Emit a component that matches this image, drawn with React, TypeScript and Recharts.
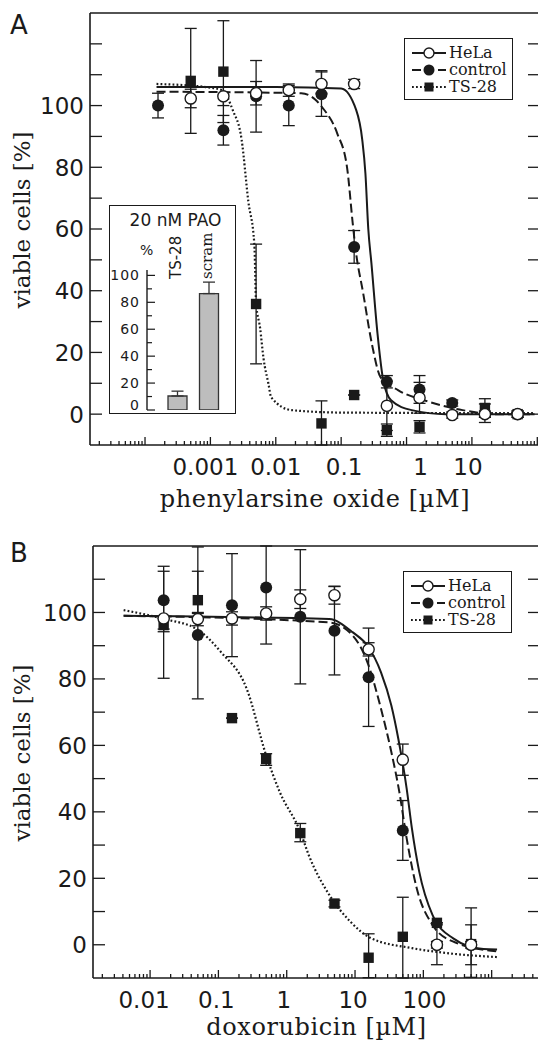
import React from 'react';
import {
  ComposedChart,
  BarChart,
  Bar,
  Line,
  Scatter,
  XAxis,
  YAxis,
  ErrorBar,
  Label,
  LabelList,
} from 'recharts';

const INK = '#1a1a1a';
const SANS = 'DejaVu Sans, sans-serif';
const SERIF = 'DejaVu Serif, serif';

const seriesNames = ['HeLa', 'control', 'TS-28'];

// ---- panel A: phenylarsine oxide [µM] ----
const paoHelaX = [0.0005, 0.00158, 0.005, 0.0158, 0.05, 0.158, 0.5, 1.58, 5, 15.8, 50];
const paoHelaY = [102.3, 103, 104, 105, 107, 107, 2.7, 5.3, -0.3, 0, 0];
const paoHelaErr = [[3, 3], [3, 3], [3.8, 3.8], [2, 2], [3, 4.3], [1.5, 1.5], [8, 8], [5, 5], [1, 1], [1, 1], [1, 1]];

const paoCtrlX = [0.000158, 0.00158, 0.005, 0.0158, 0.05, 0.158, 0.5, 1.58, 5, 15.8, 50];
const paoCtrlY = [100, 92, 103, 100, 103.7, 54.2, 10.5, 8, 3.6, 0.3, 0];
const paoCtrlErr = [[4, 4], [4.8, 4.8], [11.6, 11.6], [6.5, 6.5], [7.2, 7.2], [5.3, 5.3], [2, 2], [4.5, 4.5], [1, 1], [3, 3], [1, 1]];

const paoTsX = [0.0005, 0.00158, 0.005, 0.05, 0.158, 0.5, 1.58, 15.8, 50];
const paoTsY = [108, 111, 35.7, -3, 6.2, -5.2, -4.1, 2, 0];
const paoTsErr = [[17, 17], [16.5, 16.5], [19.4, 19.4], [7, 7.3], [0, 0], [2, 2], [2, 2], [3, 3], [1, 1]];

// fitted curves
const paoHelaFitX = [0.00015, 0.01, 0.1, 0.17, 0.21, 0.235, 0.26, 0.29, 0.36, 0.44, 0.58, 1.2, 4, 90];
const paoHelaFitY = [106, 106, 105.5, 98.5, 89, 78, 60, 49, 26, 11, 4.5, 1.3, 0, 0];
const paoCtrlFitX = [0.00015, 0.0245, 0.04, 0.051, 0.087, 0.123, 0.15, 0.165, 0.218, 0.3, 0.4, 0.74, 2.2, 7.2, 24, 90];
const paoCtrlFitY = [104.5, 104, 102, 99.5, 91, 80, 62, 54, 39, 22, 12, 7.8, 4, 1.3, 0, 0];
const paoTsFitX = [0.00015, 0.00085, 0.0015, 0.0022, 0.003, 0.0038, 0.0047, 0.005, 0.00575, 0.0065, 0.0077, 0.0085, 0.0174, 0.105, 90];
const paoTsFitY = [107, 106, 105, 98.5, 89, 69, 55, 36, 28, 18, 10, 5.5, 1.3, 0.5, 0.3];

const paoTickValues = [0.001, 0.01, 0.1, 1, 10];
const paoTickLabels = ['0.001', '0.01', '0.1', '1', '10'];
const paoTickShift = [-5, 0, 3, 14, -4];

// ---- panel B: doxorubicin [µM] ----
const doxDoses = [0.0158, 0.05, 0.158, 0.5, 1.58, 5, 15.8, 50, 158, 500];
const doxHelaY = [98.2, 98, 98.2, 99.7, 104, 105.2, 88.9, 55.7, 0, 0];
const doxHelaErr = [[18, 15.7], [2, 2], [2, 2], [2, 2], [2.8, 2.8], [2.7, 2.7], [2, 2], [4.7, 4.7], [1, 1], [1, 1]];
const doxCtrlY = [103.7, 93.2, 102.2, 107.5, 98.7, 94.5, 80.5, 34.4, 0, 0];
const doxCtrlErr = [[8.7, 8.7], [19.2, 19.2], [15.5, 15.5], [17, 12.5], [20.2, 20.2], [13.3, 13.3], [14.8, 14.8], [9, 9], [6, 6], [6, 6]];
const doxTsY = [96.2, 103.7, 68.2, 55.9, 33.6, 12.4, -3.9, 2.4, 6.6, 0.2];
const doxTsErr = [[2, 2], [4, 16], [0, 0], [1.9, 1.6], [2.6, 2.9], [1, 1], [6, 7.2], [12.4, 11.9], [0, 0], [10, 10.9]];

const doxHelaFitX = [0.0041, 4.2, 9.3, 15.2, 24, 34, 43, 57, 68, 87, 136, 270, 760, 1200];
const doxHelaFitY = [99, 98, 94, 90, 82, 72, 62, 47, 35, 22, 9, 2, -1.3, -1.4];
const doxCtrlFitX = [0.0041, 4.2, 9.3, 15.2, 24, 34, 44.5, 57, 80, 136, 270, 1200];
const doxCtrlFitY = [99, 97, 93, 85, 71, 58, 46, 32, 17, 6, 1, -2];
const doxTsFitX = [0.0041, 0.0163, 0.048, 0.11, 0.26, 0.5, 0.79, 1.58, 2.1, 4.2, 8.5, 17, 68, 270, 1200];
const doxTsFitY = [100.7, 98, 95, 88, 77, 57, 46, 34, 27, 15, 7, 2, -1, -2.7, -3.7];

const doxTickValues = [0.01, 0.1, 1, 10, 100];
const doxTickLabels = ['0.01', '0.1', '1', '10', '100'];
const doxTickShift = [-6, -2, -3, -2, 1];

// ---- inset: 20 nM PAO ----
const insetGroups = ['TS-28', 'scram'];
const insetValues = [10.4, 86.5];
const insetErrUp = [3.6, 8.5];
const insetTicks = [0, 10, 20, 30, 40, 50, 60, 70, 80, 90, 100];

const yLabelValues = [0, 20, 40, 60, 80, 100];

const pts = (xs: number[], ys: number[], errs?: number[][]) =>
  xs.map((x, i) => ({ x, y: ys[i], err: errs ? errs[i] : undefined }));

function logTicks(lo: number, hi: number) {
  const out: number[] = [];
  for (let e = Math.floor(Math.log10(lo)); e <= Math.ceil(Math.log10(hi)); e++) {
    for (let k = 1; k <= 9; k++) {
      const v = Number((k * Math.pow(10, e)).toPrecision(6));
      if (v >= lo && v <= hi) out.push(v);
    }
  }
  return out;
}

function LogTick(props: any) {
  const { x, y, payload, side, labelValues, labelTexts, labelShift } = props;
  const lg = Math.log10(payload.value);
  const major = Math.abs(lg - Math.round(lg)) < 1e-6;
  const d = side === 'top' ? 1 : -1;
  let idx = -1;
  if (side === 'bottom') {
    idx = labelValues.findIndex((lv: number) => Math.abs(Math.log10(lv) - lg) < 1e-6);
  }
  return (
    <g>
      <line x1={x} x2={x} y1={y} y2={y + d * (major ? 8 : 4)} stroke={INK} strokeWidth={1.3} />
      {idx >= 0 && (
        <text x={x + labelShift[idx]} y={y + 30} textAnchor="middle" fontFamily={SANS} fontSize={23} fill={INK}>
          {labelTexts[idx]}
        </text>
      )}
    </g>
  );
}

function LinTick(props: any) {
  const { x, y, payload, side } = props;
  const v = payload.value;
  const d = side === 'left' ? 1 : -1;
  return (
    <g>
      <line x1={x} x2={x + d * 12} y1={y} y2={y} stroke={INK} strokeWidth={1.3} />
      {side === 'left' && yLabelValues.includes(v) && (
        <text x={x - 6} y={y + 8.4} textAnchor="end" fontFamily={SANS} fontSize={23} fill={INK}>
          {v}
        </text>
      )}
    </g>
  );
}

const OpenCircle = (p: any) => (
  <circle cx={p.cx} cy={p.cy} r={5.6} fill="#fff" stroke={INK} strokeWidth={1.4} />
);
const FilledCircle = (p: any) => <circle cx={p.cx} cy={p.cy} r={6} fill={INK} />;
const FilledSquare = (p: any) => <rect x={p.cx - 5.2} y={p.cy - 5.2} width={10.4} height={10.4} fill={INK} />;

const lineStyles = [
  { dash: undefined, width: 2 },
  { dash: '9 4', width: 2 },
  { dash: '1.8 2.2', width: 2.2 },
];

function LegendBox({ left, top }: { left: number; top: number }) {
  const markers = [
    <circle cx={17} cy={7} r={5} fill="#fff" stroke={INK} strokeWidth={1.4} />,
    <circle cx={17} cy={7} r={5.5} fill={INK} />,
    <rect x={12.5} y={2.5} width={9} height={9} fill={INK} />,
  ];
  return (
    <div
      style={{
        position: 'absolute', left, top, width: 109, height: 62,
        border: `1.5px solid ${INK}`, boxSizing: 'border-box', background: '#fff',
      }}
    >
      {seriesNames.map((name, i) => (
        <div
          key={name}
          style={{ position: 'absolute', left: 7, top: 5 + i * 17, height: 17, display: 'flex', alignItems: 'center' }}
        >
          <svg width={34} height={14}>
            <line x1={0} x2={34} y1={7} y2={7} stroke={INK} strokeWidth={lineStyles[i].width} strokeDasharray={lineStyles[i].dash} />
            {markers[i]}
          </svg>
          <span style={{ fontFamily: SERIF, fontSize: 16, color: INK, marginLeft: 3, lineHeight: '17px' }}>{name}</span>
        </div>
      ))}
    </div>
  );
}

interface PanelCfg {
  top: number;
  height: number;
  plotTop: number;
  plotBottom: number;
  plotLeft: number;
  xDomain: [number, number];
  yDomain: [number, number];
  yTicks: number[];
  tickValues: number[];
  tickLabels: string[];
  tickShift: number[];
  xTitle: string;
  titleDy: number;
  fits: { x: number; y: number }[][];
  points: { x: number; y: number; err?: number[] }[][];
  legendLeft: number;
  legendTop: number;
  letter: string;
}

function DosePanel({ cfg }: { cfg: PanelCfg }) {
  const W = 560;
  const xTicks = logTicks(cfg.xDomain[0], cfg.xDomain[1]);
  const shapes = [OpenCircle, FilledCircle, FilledSquare];
  const order = [2, 1, 0];
  return (
    <>
      <div style={{ position: 'absolute', left: 0, top: cfg.top }}>
        <ComposedChart
          width={W}
          height={cfg.height}
          margin={{ top: cfg.plotTop - 4, right: W - 540 - 4, bottom: 0, left: cfg.plotLeft - 60 }}
        >
          <XAxis
            dataKey="x"
            type="number"
            scale="log"
            domain={cfg.xDomain}
            allowDataOverflow
            ticks={xTicks}
            interval={0}
            tickSize={0}
            tickMargin={0}
            tickLine={false}
            axisLine={{ stroke: INK, strokeWidth: 1.6 }}
            height={cfg.height - cfg.plotBottom}
            tick={(t: any) => (
              <LogTick
                {...t}
                side="bottom"
                labelValues={cfg.tickValues}
                labelTexts={cfg.tickLabels}
                labelShift={cfg.tickShift}
              />
            )}
          >
            <Label
              content={(lp: any) => {
                const vb = lp.viewBox;
                return (
                  <text
                    x={vb.x + vb.width / 2}
                    y={vb.y + cfg.titleDy}
                    textAnchor="middle"
                    fontFamily={SERIF}
                    fontSize={24}
                    letterSpacing={0.6}
                    fill={INK}
                  >
                    {cfg.xTitle}
                  </text>
                );
              }}
            />
          </XAxis>
          <XAxis
            xAxisId="top"
            orientation="top"
            type="number"
            scale="log"
            domain={cfg.xDomain}
            allowDataOverflow
            ticks={xTicks}
            interval={0}
            tickSize={0}
            tickMargin={0}
            tickLine={false}
            axisLine={{ stroke: INK, strokeWidth: 1.6 }}
            height={4}
            tick={(t: any) => <LogTick {...t} side="top" />}
          />
          <YAxis
            dataKey="y"
            type="number"
            domain={cfg.yDomain}
            allowDataOverflow
            ticks={cfg.yTicks}
            interval={0}
            tickSize={0}
            tickMargin={0}
            tickLine={false}
            axisLine={{ stroke: INK, strokeWidth: 1.6 }}
            width={60}
            tick={(t: any) => <LinTick {...t} side="left" />}
          >
            <Label
              content={(lp: any) => {
                const vb = lp.viewBox;
                const cy = vb.y + vb.height / 2 - 9;
                return (
                  <text
                    x={30}
                    y={cy}
                    transform={`rotate(-90, 30, ${cy})`}
                    textAnchor="middle"
                    fontFamily={SERIF}
                    fontSize={23}
                    fill={INK}
                  >
                    viable cells  [%]
                  </text>
                );
              }}
            />
          </YAxis>
          <YAxis
            yAxisId="right"
            orientation="right"
            type="number"
            domain={cfg.yDomain}
            allowDataOverflow
            ticks={cfg.yTicks}
            interval={0}
            tickSize={0}
            tickMargin={0}
            tickLine={false}
            axisLine={{ stroke: INK, strokeWidth: 1.6 }}
            width={4}
            tick={(t: any) => <LinTick {...t} side="right" />}
          />

          {cfg.fits.map((fit, i) => (
            <Line
              key={`fit-${i}`}
              data={fit}
              dataKey="y"
              type="monotone"
              stroke={INK}
              strokeWidth={lineStyles[i].width}
              strokeDasharray={lineStyles[i].dash}
              dot={false}
              activeDot={false}
              isAnimationActive={false}
              name={seriesNames[i]}
            />
          ))}

          {order.map((i) => (
            <Scatter
              key={`pts-${i}`}
              data={cfg.points[i]}
              dataKey="y"
              shape={shapes[i]}
              isAnimationActive={false}
              name={seriesNames[i]}
            >
              <ErrorBar dataKey="err" direction="y" width={6} stroke={INK} strokeWidth={1.3} />
            </Scatter>
          ))}
        </ComposedChart>
      </div>
      <LegendBox left={cfg.legendLeft} top={cfg.legendTop} />
      <div
        style={{
          position: 'absolute', left: 10, top: cfg.top + (cfg.letter === 'A' ? 12 : 20),
          fontFamily: SANS, fontSize: 26, lineHeight: '26px', color: INK,
        }}
      >
        {cfg.letter}
      </div>
    </>
  );
}

function InsetBars() {
  const data = insetGroups.map((name, i) => ({ name, v: insetValues[i], err: [0, insetErrUp[i]] }));
  return (
    <>
      <div
        style={{
          position: 'absolute', left: 109, top: 205, width: 127, height: 209,
          border: `1.5px solid ${INK}`, boxSizing: 'border-box', background: '#fff',
        }}
      >
        <div
          style={{
            position: 'absolute', left: 0, width: 127, top: 4, textAlign: 'center',
            fontFamily: SANS, fontSize: 17, lineHeight: '20px', color: INK, paddingLeft: 4,
            boxSizing: 'border-box',
          }}
        >
          20 nM PAO
        </div>
        <div style={{ position: 'absolute', left: 30, top: 36, fontFamily: SANS, fontSize: 14, color: INK }}>%</div>
      </div>
      <div style={{ position: 'absolute', left: 109, top: 205 }}>
        <BarChart width={127} height={209} data={data} margin={{ top: 65, right: 9, bottom: 4, left: 8 }}>
          <XAxis
            dataKey="name"
            tick={false}
            tickLine={false}
            axisLine={{ stroke: INK, strokeWidth: 1.4 }}
            height={0}
            padding={{ left: 15, right: 2 }}
          />
          <YAxis
            type="number"
            domain={[0, 104]}
            allowDataOverflow
            ticks={insetTicks}
            interval={0}
            tickSize={0}
            tickMargin={0}
            tickLine={false}
            axisLine={{ stroke: INK, strokeWidth: 1.4 }}
            width={30}
            tick={(t: any) => {
              const v = t.payload.value;
              const major = v % 20 === 0;
              return (
                <g>
                  <line x1={t.x} x2={t.x + (major ? 8 : 5)} y1={t.y} y2={t.y} stroke={INK} strokeWidth={1.2} />
                  {major && (
                    <text
                      x={t.x - 7}
                      y={t.y + 5 - (v === 0 ? 5 : 0)}
                      textAnchor="end"
                      fontFamily={SANS}
                      fontSize={14}
                      letterSpacing={1}
                      fill={INK}
                    >
                      {v}
                    </text>
                  )}
                </g>
              );
            }}
          />
          <Bar dataKey="v" barSize={19} fill="#bdbdbd" stroke="#333" strokeWidth={1.3} isAnimationActive={false}>
            <ErrorBar dataKey="err" direction="y" width={6} stroke="#333" strokeWidth={1.3} />
            <LabelList
              dataKey="name"
              content={(lp: any) => {
                const bx = lp.x + lp.width / 2 + 3;
                const by = 74;
                return (
                  <text
                    x={bx}
                    y={by}
                    transform={`rotate(-90, ${bx}, ${by})`}
                    fontFamily={lp.value === 'scram' ? SERIF : SANS}
                    fontSize={15}
                    fill={INK}
                  >
                    {lp.value}
                  </text>
                );
              }}
            />
          </Bar>
        </BarChart>
      </div>
    </>
  );
}

const panelA: PanelCfg = {
  top: 0,
  height: 520,
  plotTop: 13,
  plotBottom: 445,
  plotLeft: 90,
  xDomain: [1.44e-5, 110],
  yDomain: [-10, 130],
  yTicks: [0, 10, 20, 30, 40, 50, 60, 70, 80, 90, 100, 110, 120],
  tickValues: paoTickValues,
  tickLabels: paoTickLabels,
  tickShift: paoTickShift,
  xTitle: 'phenylarsine oxide [µM]',
  titleDy: 62,
  fits: [pts(paoHelaFitX, paoHelaFitY), pts(paoCtrlFitX, paoCtrlFitY), pts(paoTsFitX, paoTsFitY)],
  points: [pts(paoHelaX, paoHelaY, paoHelaErr), pts(paoCtrlX, paoCtrlY, paoCtrlErr), pts(paoTsX, paoTsY, paoTsErr)],
  legendLeft: 404,
  legendTop: 38,
  letter: 'A',
};

const panelB: PanelCfg = {
  top: 520,
  height: 523,
  plotTop: 26,
  plotBottom: 458,
  plotLeft: 93,
  xDomain: [0.00146, 5100],
  yDomain: [-10, 120],
  yTicks: [0, 10, 20, 30, 40, 50, 60, 70, 80, 90, 100, 110],
  tickValues: doxTickValues,
  tickLabels: doxTickLabels,
  tickShift: doxTickShift,
  xTitle: 'doxorubicin [µM]',
  titleDy: 57,
  fits: [pts(doxHelaFitX, doxHelaFitY), pts(doxCtrlFitX, doxCtrlFitY), pts(doxTsFitX, doxTsFitY)],
  points: [pts(doxDoses, doxHelaY, doxHelaErr), pts(doxDoses, doxCtrlY, doxCtrlErr), pts(doxDoses, doxTsY, doxTsErr)],
  legendLeft: 403,
  legendTop: 571,
  letter: 'B',
};

export default function App() {
  return (
    <div
      style={{
        position: 'absolute', left: 0, top: 0, width: 538, height: 1043,
        overflow: 'hidden', background: '#fff',
      }}
    >
      <DosePanel cfg={panelA} />
      <InsetBars />
      <DosePanel cfg={panelB} />
    </div>
  );
}
